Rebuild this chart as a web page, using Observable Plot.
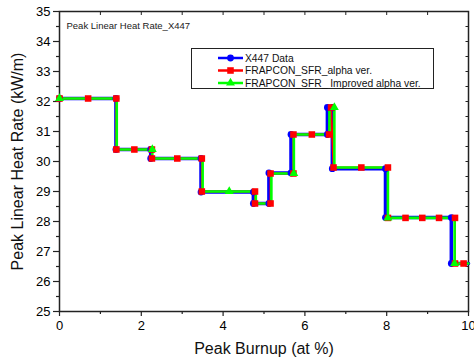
<!DOCTYPE html>
<html>
<head>
<meta charset="utf-8">
<script src="https://cdn.jsdelivr.net/npm/d3@7"></script>
<script src="https://cdn.jsdelivr.net/npm/@observablehq/plot@0.6"></script>
<style>
  html, body { margin: 0; padding: 0; background: #fff; }
  #chart { width: 474px; height: 364px; overflow: hidden; }
</style>
</head>
<body>
<div id="chart"></div>
<script>
// ---- data ----
const seriesNames = ["X447 Data", "FRAPCON_SFR_alpha ver.", "FRAPCON_SFR_ Improved alpha ver."];
const seriesColors = ["#0000ff", "#ff0000", "#00ff00"];

const blueX = [0, 1.38, 1.38, 2.23, 2.23, 3.46, 3.46, 4.74, 4.74, 5.12, 5.12, 5.66, 5.66, 6.55, 6.55, 6.67, 6.67, 7.97, 7.97, 9.58, 9.58, 10];
const blueY = [32.1, 32.1, 30.4, 30.4, 30.1, 30.1, 28.98, 28.98, 28.6, 28.6, 29.62, 29.62, 30.9, 30.9, 31.8, 31.8, 29.76, 29.76, 28.13, 28.13, 26.6, 26.6];

const redX = [0, 0.70, 1.39, 1.39, 1.83, 2.26, 2.26, 2.88, 3.48, 3.48, 4.78, 4.78, 5.16, 5.16, 5.72, 5.72, 6.17, 6.59, 6.64, 6.70, 7.38, 8.03, 8.03, 8.46, 8.87, 9.28, 9.67, 9.67, 9.88];
const redY = [32.1, 32.1, 32.1, 30.4, 30.4, 30.4, 30.1, 30.1, 30.1, 29.0, 29.0, 28.6, 28.6, 29.6, 29.6, 30.9, 30.9, 30.9, 31.8, 29.8, 29.8, 29.8, 28.12, 28.12, 28.12, 28.12, 28.12, 26.6, 26.6];

const greenX = [0, 1.40, 1.40, 2.27, 2.27, 3.50, 3.50, 4.15, 4.80, 4.80, 5.18, 5.18, 5.73, 5.73, 6.60, 6.60, 6.72, 6.72, 8.03, 8.03, 9.66, 9.66, 10];
const greenY = [32.1, 32.1, 30.4, 30.4, 30.1, 30.1, 29.0, 29.0, 29.0, 28.6, 28.6, 29.6, 29.6, 30.9, 30.9, 31.8, 31.8, 29.8, 29.8, 28.12, 28.12, 26.6, 26.6];
const greenSymX = [0, 2.27, 4.15, 5.73, 6.72, 8.03, 9.66];
const greenSymY = [32.1, 30.4, 29.0, 29.6, 31.8, 28.12, 26.6];

const xMajorTicks = [0, 2, 4, 6, 8, 10];
const xMinorTicks = [1, 3, 5, 7, 9];
const xTopTicks = [0, 1, 2, 3, 4, 5, 6, 7, 8, 9, 10];
const yMajorTicks = [25, 26, 27, 28, 29, 30, 31, 32, 33, 34, 35];
const yMinorTicks = [25.5, 26.5, 27.5, 28.5, 29.5, 30.5, 31.5, 32.5, 33.5, 34.5];
const yRightTicks = [25, 25.5, 26, 26.5, 27, 27.5, 28, 28.5, 29, 29.5, 30, 30.5, 31, 31.5, 32, 32.5, 33, 33.5, 34, 34.5, 35];

const xLabel = "Peak Burnup (at %)";
const yLabel = "Peak Linear Heat Rate (kW/m)";
const innerTitle = "Peak Linear Heat Rate_X447";

// ---- tables ----
const zip = (xs, ys) => xs.map((x, i) => ({x, y: ys[i]}));
const blue = zip(blueX, blueY);
const red = zip(redX, redY);
const green = zip(greenX, greenY);
const greenSym = zip(greenSymX, greenSymY);
const blueSym = blue.slice(0, -1);

const font = "'Liberation Sans', Arial, sans-serif";
const axisColor = "#222";

const chart = Plot.plot({
  width: 474,
  height: 364,
  marginLeft: 59,
  marginRight: 6,
  marginTop: 11,
  marginBottom: 53,
  style: {fontFamily: font, background: "#fff", color: "#000", overflow: "visible"},
  x: {domain: [0, 10]},
  y: {domain: [25, 35]},
  marks: [
    Plot.axisX({ticks: xMajorTicks, tickSize: 5, tickPadding: 4, fontSize: 13, label: null, stroke: axisColor, strokeWidth: 1.2}),
    Plot.axisX({ticks: xMinorTicks, tickSize: 3, tickFormat: () => "", label: null, stroke: axisColor, strokeWidth: 1.2}),
    Plot.axisX({anchor: "top", ticks: xTopTicks, tickSize: -3, tickFormat: () => "", label: null, stroke: axisColor}),
    Plot.axisY({ticks: yMajorTicks, tickSize: 6, tickPadding: 3, fontSize: 13, label: null, stroke: axisColor, strokeWidth: 1.2}),
    Plot.axisY({ticks: yMinorTicks, tickSize: 3, tickFormat: () => "", label: null, stroke: axisColor, strokeWidth: 1.2}),
    Plot.axisY({anchor: "right", ticks: yRightTicks, tickSize: -3.5, tickFormat: () => "", label: null, stroke: axisColor}),
    Plot.frame({stroke: axisColor, strokeWidth: 1.5}),
    Plot.text([innerTitle], {frameAnchor: "top-left", dx: 7, dy: 11, textAnchor: "start", fontSize: 9.5, fill: "#222"}),
    Plot.text([xLabel], {frameAnchor: "bottom", dy: 42, textAnchor: "middle", fontSize: 16, fill: "#111"}),
    Plot.text([yLabel], {frameAnchor: "left", dx: -42, rotate: -90, textAnchor: "middle", fontSize: 16, fill: "#111"}),
    Plot.line(blue, {x: "x", y: "y", stroke: seriesColors[0], strokeWidth: 3.5, curve: "linear"}),
    Plot.line(red, {x: "x", y: "y", stroke: seriesColors[1], strokeWidth: 2, curve: "linear"}),
    Plot.line(green, {x: "x", y: "y", stroke: seriesColors[2], strokeWidth: 2.6, curve: "linear"}),
    Plot.dot(blueSym, {x: "x", y: "y", r: 3.4, fill: seriesColors[0], symbol: "circle"}),
    Plot.dot(red, {x: "x", y: "y", r: 3.7, fill: seriesColors[1], symbol: "square"}),
    Plot.dot(greenSym, {x: "x", y: "y", r: 3.3, fill: seriesColors[2], symbol: "triangle"})
  ]
});

document.getElementById("chart").appendChild(chart);

// ---- legend (drawn in the plot's svg) ----
const svg = d3.select(chart);
const lg = svg.append("g").attr("font-family", font).attr("font-size", 10.3).attr("text-anchor", "start");
lg.append("rect").attr("x", 191.5).attr("y", 48.5).attr("width", 242).attr("height", 40)
  .attr("fill", "#fff").attr("stroke", "#222").attr("stroke-width", 1);
const symbols = [d3.symbolCircle, d3.symbolSquare, d3.symbolTriangle];
const symR = [3.4, 3.7, 3.3];
seriesNames.forEach((name, i) => {
  const cy = 58 + i * 12.5;
  lg.append("line").attr("x1", 218).attr("x2", 243).attr("y1", cy).attr("y2", cy)
    .attr("stroke", seriesColors[i]).attr("stroke-width", 2.5);
  lg.append("path").attr("transform", `translate(230.5,${cy})`)
    .attr("d", d3.symbol(symbols[i], Math.PI * symR[i] * symR[i])())
    .attr("fill", seriesColors[i]);
  lg.append("text").attr("x", 245).attr("y", cy).attr("dy", "0.36em").attr("fill", "#111").text(name);
});
</script>
</body>
</html>
